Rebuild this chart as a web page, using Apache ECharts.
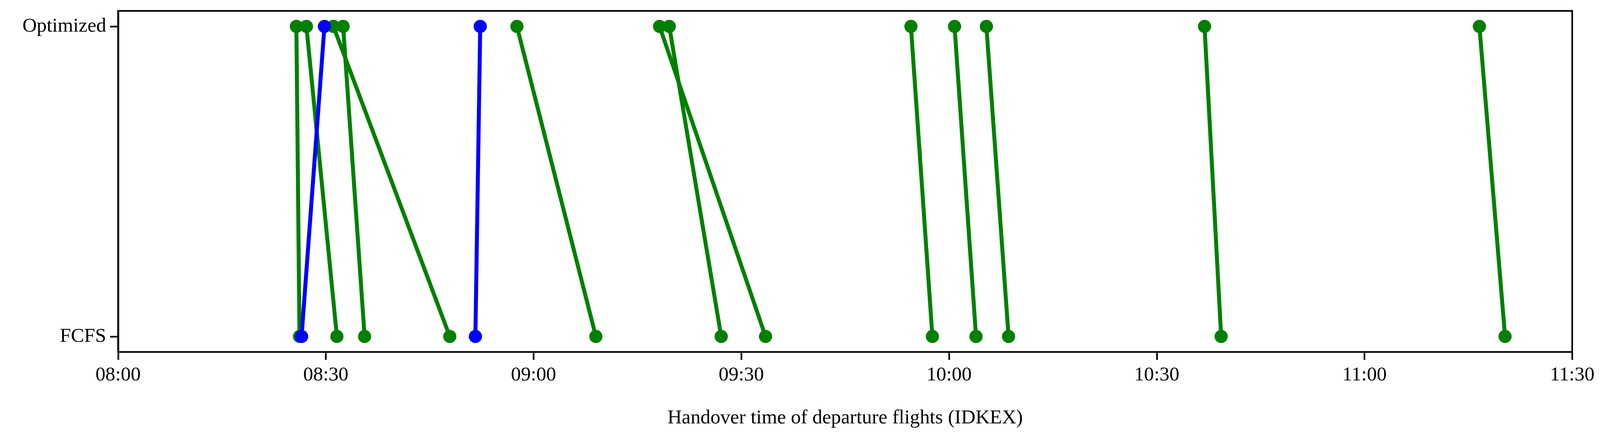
<!DOCTYPE html>
<html>
<head>
<meta charset="utf-8">
<script src="https://cdn.jsdelivr.net/npm/echarts@6/dist/echarts.min.js"></script>
<style>html,body{margin:0;padding:0;background:#fff;overflow:hidden}#chart{width:100vw;height:100vh}</style>
</head>
<body>
<div id="chart"></div>
<script>
// minutes after 08:00
var fcfsTimes = [26.2, 31.6, 26.5, 47.9, 35.6, 51.6, 69.0, 93.5, 87.1, 117.6, 123.9, 128.6, 159.3, 200.3];
var optTimes  = [25.75, 27.2, 29.8, 31.1, 32.5, 52.3, 57.6, 78.2, 79.6, 114.5, 120.8, 125.4, 156.9, 196.6];
var pairColors = ['green', 'green', 'blue', 'green', 'green', 'blue', 'green', 'green', 'green', 'green', 'green', 'green', 'green', 'green'];
var yLabels = ['FCFS', 'Optimized'];
var colorMap = { green: '#008000', blue: '#0000ff' };

// sizes are given for a 4837px wide picture, scaled to the real window
var s = window.innerWidth / 4837;
function px(v) { return v * s; }

function fmt(v) {
    var h = 8 + Math.floor(v / 60), m = Math.round(v % 60);
    return (h < 10 ? '0' : '') + h + ':' + (m < 10 ? '0' : '') + m;
}

var series = fcfsTimes.map(function (f, i) {
    var c = colorMap[pairColors[i]];
    return {
        type: 'line',
        data: [[f, 0], [optTimes[i], 1]],
        symbol: 'circle',
        symbolSize: px(40),
        lineStyle: { color: c, width: px(12) },
        itemStyle: { color: c },
        z: pairColors[i] === 'blue' ? 3 : 2,
        animation: false
    };
});

var chart = echarts.init(document.getElementById('chart'));
chart.setOption({
    backgroundColor: '#fff',
    grid: { left: px(357), right: px(84), top: px(33), bottom: px(242), show: true, borderColor: '#000', borderWidth: px(5) },
    xAxis: {
        type: 'value', min: 0, max: 210, interval: 30,
        name: 'Handover time of departure flights (IDKEX)',
        nameLocation: 'middle', nameGap: px(170),
        nameTextStyle: { fontFamily: 'Liberation Serif', fontSize: px(60), color: '#000' },
        axisLine: { show: true, onZero: false, lineStyle: { color: '#000', width: px(5) } },
        axisTick: { show: true, length: px(24), lineStyle: { color: '#000', width: px(5) } },
        axisLabel: { formatter: fmt, fontFamily: 'Liberation Serif', fontSize: px(60), color: '#000', margin: px(40) },
        splitLine: { show: false }
    },
    yAxis: {
        type: 'value', min: -0.05, max: 1.05,
        axisLine: { show: true, onZero: false, lineStyle: { color: '#000', width: px(5) } },
        axisTick: { show: true, length: px(24), lineStyle: { color: '#000', width: px(5) }, customValues: [0, 1] },
        axisLabel: {
            customValues: [0, 1],
            formatter: function (v) { return yLabels[Math.round(v)]; },
            fontFamily: 'Liberation Serif', fontSize: px(60), color: '#000', margin: px(36)
        },
        splitLine: { show: false }
    },
    series: series
});
</script>
</body>
</html>
